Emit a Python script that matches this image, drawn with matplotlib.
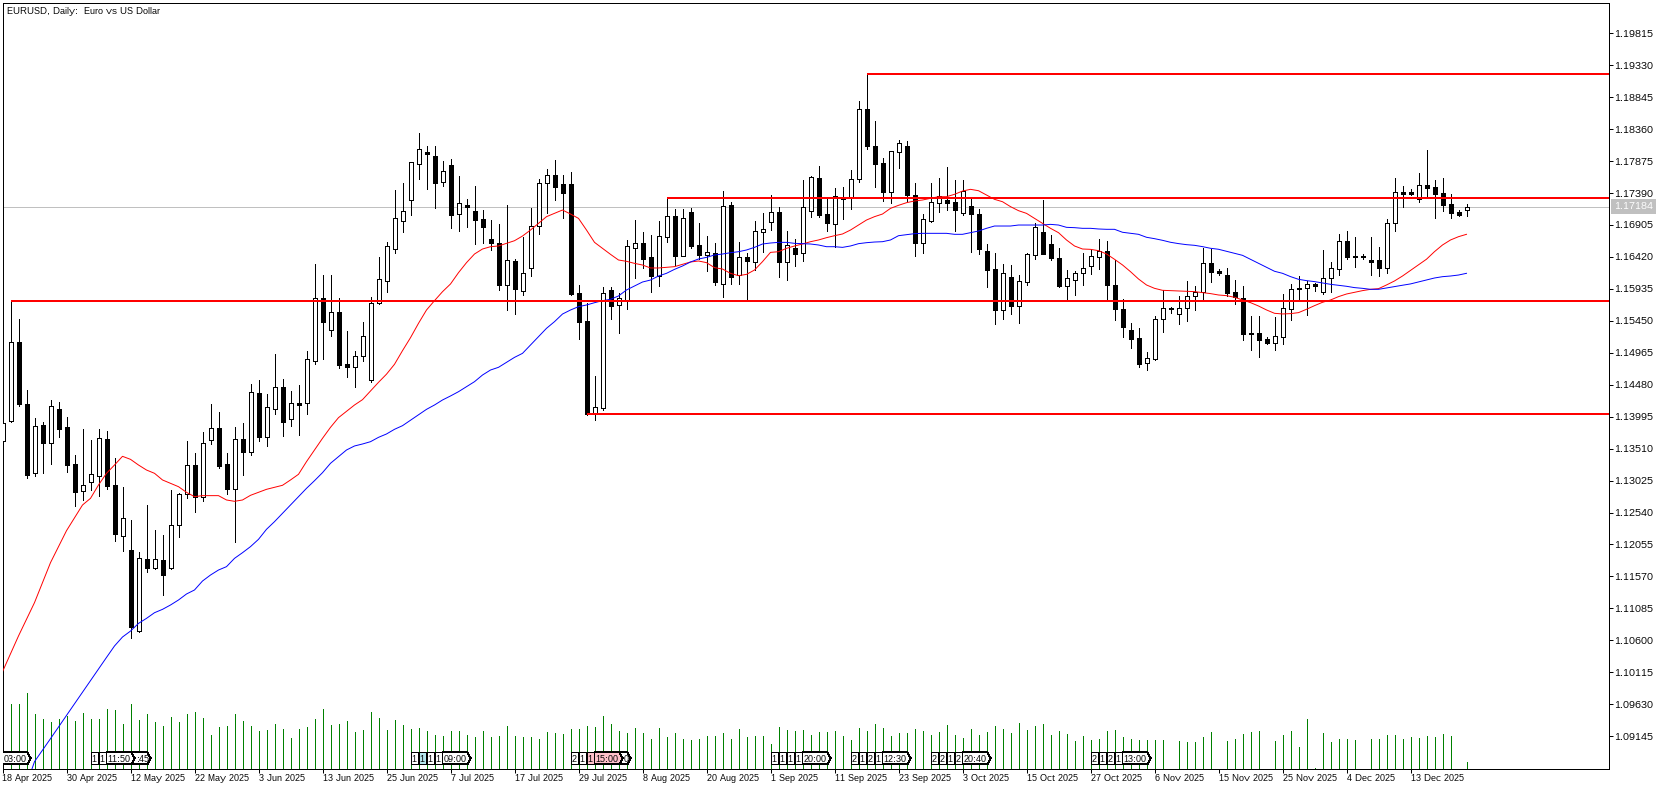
import numpy as np
import matplotlib
matplotlib.use("Agg")
import matplotlib.pyplot as plt
from matplotlib.patches import Polygon

plt.rcParams["text.hinting"] = "native"
plt.rcParams["text.hinting_factor"] = 1

opens = [1.13631,1.13934,1.15123,1.14187,1.13135,1.13868,1.13590,1.14111,1.13838,1.13276,
1.12862,1.12998,1.13099,1.13656,1.12958,1.12189,1.11971,1.10741,1.11834,1.11702,
1.11819,1.11702,1.12345,1.12816,1.13256,1.12770,1.13636,1.13818,1.13271,1.12892,
1.13651,1.13464,1.14349,1.13681,1.14106,1.14440,1.13955,1.14197,1.14208,1.14835,
1.15791,1.15306,1.15579,1.14789,1.14744,1.14911,1.14547,1.15715,1.16059,1.16545,
1.16960,1.17279,1.17825,1.18007,1.17947,1.17552,1.17810,1.17066,1.17208,1.17112,
1.16990,1.16687,1.16626,1.15988,1.16353,1.15897,1.16246,1.16884,1.17537,1.17658,
1.17527,1.17527,1.15872,1.15447,1.14035,1.14121,1.15913,1.15685,1.15756,1.16560,
1.16626,1.16419,1.16135,1.16717,1.17036,1.16439,1.17097,1.16596,1.16454,1.16474,
1.16014,1.17203,1.16140,1.16419,1.16338,1.16793,1.16945,1.17097,1.16348,1.16555,
1.16474,1.17112,1.17613,1.17071,1.16925,1.17299,1.17314,1.17598,1.18660,1.18104,
1.17845,1.17410,1.18007,1.18104,1.17360,1.16636,1.16970,1.17243,1.17284,1.17253,
1.17092,1.17193,1.17071,1.16510,1.16236,1.15619,1.16115,1.15680,1.16044,1.16454,
1.16798,1.16616,1.16403,1.15983,1.16074,1.16171,1.16277,1.16424,1.16505,1.15994,
1.15630,1.15311,1.15190,1.14810,1.14876,1.15473,1.15630,1.15549,1.15640,1.15832,
1.15888,1.16328,1.16207,1.16146,1.15888,1.15797,1.15265,1.15265,1.15174,1.15119,
1.15210,1.15635,1.15933,1.15943,1.16009,1.15893,1.16095,1.16232,1.16662,1.16419,
1.16419,1.16374,1.16374,1.16257,1.16930,1.17405,1.17405,1.17294,1.17507,1.17481,
1.17390,1.17223,1.17102,1.17137]

closes = [1.13894,1.15123,1.14187,1.13109,1.13848,1.13600,1.14152,1.13803,1.13266,1.12856,
1.12953,1.13120,1.13666,1.12948,1.12219,1.12452,1.10807,1.11844,1.11702,1.11829,
1.11596,1.12345,1.12816,1.13256,1.12770,1.13590,1.13818,1.13246,1.12902,1.13651,
1.13464,1.14364,1.13691,1.14137,1.14440,1.13919,1.14197,1.14177,1.14865,1.15791,
1.15437,1.15579,1.14784,1.14754,1.14911,1.15214,1.15715,1.16080,1.16580,1.17005,
1.17112,1.17856,1.18053,1.17977,1.17547,1.17719,1.17061,1.17233,1.17183,1.16985,
1.16879,1.16636,1.15999,1.16368,1.15938,1.16181,1.16884,1.17537,1.17658,1.17476,
1.17395,1.15862,1.15437,1.14035,1.14136,1.15867,1.15680,1.15791,1.16580,1.16626,
1.16393,1.16135,1.16732,1.17036,1.16439,1.17005,1.16591,1.16454,1.16489,1.16044,
1.17188,1.16120,1.16413,1.16363,1.16808,1.16839,1.17097,1.16348,1.16596,1.16464,
1.17172,1.17628,1.17056,1.16935,1.17339,1.17329,1.17598,1.18660,1.18109,1.17835,
1.17410,1.18023,1.18144,1.17360,1.16631,1.16990,1.17248,1.17345,1.17238,1.17132,
1.17415,1.17071,1.16540,1.16221,1.15614,1.16176,1.15675,1.16054,1.16464,1.16874,
1.16464,1.16403,1.15978,1.16095,1.16176,1.16252,1.16429,1.16510,1.15999,1.15635,
1.15362,1.15174,1.14794,1.14881,1.15473,1.15640,1.15645,1.15640,1.15822,1.15888,
1.16323,1.16196,1.16176,1.15873,1.15807,1.15250,1.15250,1.15159,1.15114,1.15215,
1.15640,1.15928,1.15949,1.16004,1.15974,1.16095,1.16247,1.16657,1.16424,1.16434,
1.16434,1.16343,1.16257,1.16930,1.17401,1.17375,1.17375,1.17507,1.17466,1.17375,
1.17208,1.17087,1.17056,1.17184]

highs = [1.13894,1.15751,1.15478,1.14400,1.13975,1.13909,1.14248,1.14218,1.13990,1.13413,
1.13808,1.13641,1.13808,1.13777,1.13368,1.12927,1.12426,1.11945,1.12654,1.12274,
1.12198,1.12881,1.12841,1.13626,1.13443,1.13762,1.14187,1.14066,1.13443,1.13838,
1.13899,1.14486,1.14547,1.14339,1.14946,1.14562,1.14385,1.14476,1.14992,1.16312,
1.16145,1.16145,1.15791,1.15295,1.14992,1.15432,1.15806,1.16419,1.16641,1.17436,
1.17537,1.17856,1.18301,1.18104,1.18104,1.17876,1.17901,1.17648,1.17299,1.17496,
1.17132,1.16980,1.16919,1.17208,1.16388,1.16722,1.17162,1.17598,1.17749,1.17891,
1.17658,1.17709,1.15993,1.15720,1.14612,1.15958,1.15963,1.15872,1.16677,1.16980,
1.16798,1.16752,1.16965,1.17314,1.17147,1.17147,1.17157,1.16935,1.16737,1.16631,
1.17420,1.17253,1.16646,1.16479,1.16965,1.17086,1.17360,1.17178,1.16813,1.16692,
1.17587,1.17648,1.17800,1.17299,1.17466,1.17481,1.17739,1.18787,1.19196,1.18483,
1.17921,1.18028,1.18195,1.18179,1.17542,1.17071,1.17542,1.17618,1.17785,1.17587,
1.17587,1.17314,1.17147,1.16616,1.16479,1.16312,1.16297,1.16145,1.16479,1.16935,
1.17284,1.16752,1.16555,1.16221,1.16206,1.16479,1.16525,1.16692,1.16662,1.16374,
1.15782,1.15417,1.15341,1.14977,1.15524,1.15918,1.15660,1.15827,1.16055,1.15979,
1.16556,1.16541,1.16237,1.16252,1.16070,1.15979,1.15524,1.15524,1.15205,1.15508,
1.15857,1.16009,1.16131,1.16055,1.16024,1.16525,1.16343,1.16768,1.16814,1.16723,
1.16465,1.16723,1.16571,1.16996,1.17618,1.17497,1.17451,1.17694,1.18043,1.17588,
1.17618,1.17375,1.17132,1.17223]

lows = [1.13631,1.13919,1.14162,1.13069,1.13094,1.13145,1.13276,1.13691,1.13160,1.12639,
1.12730,1.12882,1.12791,1.12897,1.12108,1.11956,1.10640,1.10731,1.11642,1.11677,
1.11287,1.11677,1.12173,1.12765,1.12553,1.12720,1.13585,1.13221,1.12826,1.12097,
1.13109,1.13418,1.13626,1.13555,1.14035,1.13702,1.13853,1.13717,1.14035,1.14794,
1.14870,1.15220,1.14739,1.14597,1.14445,1.14840,1.14526,1.15700,1.15887,1.16479,
1.16798,1.17056,1.17603,1.17451,1.17162,1.17496,1.16859,1.16813,1.16874,1.16616,
1.16631,1.16525,1.15918,1.15614,1.15553,1.15842,1.16130,1.16768,1.17086,1.17284,
1.17011,1.15847,1.15174,1.14020,1.13944,1.14101,1.15477,1.15270,1.15629,1.16100,
1.16252,1.15887,1.15978,1.16641,1.16292,1.16439,1.16550,1.16383,1.16206,1.15993,
1.15816,1.16014,1.16014,1.15766,1.16221,1.16494,1.16828,1.16115,1.16069,1.16282,
1.16358,1.17026,1.17026,1.16813,1.16575,1.16995,1.17147,1.17557,1.18058,1.17481,
1.17269,1.17238,1.17770,1.17269,1.16434,1.16479,1.16955,1.17102,1.17132,1.16813,
1.17056,1.16494,1.16464,1.15963,1.15401,1.15477,1.15553,1.15417,1.15993,1.16388,
1.16464,1.16373,1.15963,1.15751,1.15842,1.15993,1.16160,1.16236,1.15751,1.15463,
1.15210,1.15038,1.14749,1.14703,1.14856,1.15281,1.15569,1.15402,1.15448,1.15615,
1.15782,1.16040,1.16146,1.15827,1.15706,1.15159,1.15007,1.14901,1.15098,1.15007,
1.15098,1.15463,1.15751,1.15539,1.15903,1.15857,1.15888,1.16146,1.16389,1.16267,
1.16389,1.16146,1.16131,1.16176,1.16814,1.17178,1.17360,1.17254,1.17345,1.17011,
1.17117,1.17011,1.17041,1.17041]

ma_fast = [1.10124,1.10395,1.10666,1.10919,1.11172,1.11475,1.11779,1.12020,1.12264,1.12460,
1.12654,1.12755,1.12958,1.13135,1.13261,1.13393,1.13347,1.13261,1.13185,1.13135,
1.13034,1.12983,1.12932,1.12846,1.12781,1.12796,1.12796,1.12796,1.12730,1.12710,
1.12730,1.12801,1.12846,1.12892,1.12922,1.12953,1.13034,1.13120,1.13312,1.13489,
1.13666,1.13833,1.13980,1.14076,1.14172,1.14253,1.14385,1.14516,1.14640,1.14790,
1.14997,1.15194,1.15412,1.15614,1.15756,1.15892,1.16009,1.16181,1.16333,1.16464,
1.16540,1.16575,1.16586,1.16626,1.16666,1.16737,1.16828,1.16930,1.17031,1.17081,
1.17132,1.17071,1.17005,1.16828,1.16641,1.16550,1.16459,1.16373,1.16353,1.16322,
1.16297,1.16252,1.16252,1.16262,1.16272,1.16307,1.16343,1.16358,1.16333,1.16257,
1.16236,1.16171,1.16135,1.16155,1.16221,1.16348,1.16489,1.16499,1.16550,1.16586,
1.16616,1.16651,1.16677,1.16712,1.16742,1.16768,1.16828,1.16904,1.16980,1.17031,
1.17071,1.17157,1.17203,1.17243,1.17269,1.17284,1.17309,1.17334,1.17334,1.17370,
1.17420,1.17446,1.17425,1.17360,1.17294,1.17258,1.17183,1.17122,1.17081,1.17005,
1.16930,1.16854,1.16788,1.16677,1.16586,1.16540,1.16535,1.16515,1.16465,1.16384,
1.16298,1.16196,1.16085,1.15994,1.15943,1.15913,1.15908,1.15903,1.15898,1.15893,
1.15878,1.15863,1.15842,1.15832,1.15807,1.15766,1.15726,1.15675,1.15615,1.15564,
1.15554,1.15559,1.15574,1.15625,1.15680,1.15731,1.15766,1.15817,1.15857,1.15883,
1.15908,1.15928,1.15938,1.15994,1.16055,1.16130,1.16215,1.16300,1.16385,1.16500,
1.16601,1.16677,1.16727,1.16763]

ma_slow_first_bar = 3
ma_slow = [1.08409,1.08758,1.08932,1.09107,1.09284,1.09461,1.09636,1.09811,1.09988,1.10165,
1.10340,1.10514,1.10650,1.10740,1.10857,1.10933,1.11019,1.11070,1.11136,1.11212,
1.11303,1.11364,1.11500,1.11591,1.11667,1.11718,1.11844,1.11930,1.12022,1.12133,
1.12285,1.12401,1.12528,1.12654,1.12781,1.12907,1.13023,1.13145,1.13287,1.13388,
1.13489,1.13550,1.13580,1.13615,1.13681,1.13732,1.13803,1.13858,1.13940,1.14020,
1.14106,1.14172,1.14248,1.14309,1.14374,1.14450,1.14526,1.14627,1.14703,1.14744,
1.14820,1.14895,1.14956,1.15083,1.15209,1.15336,1.15437,1.15553,1.15614,1.15665,
1.15690,1.15725,1.15756,1.15776,1.15827,1.15918,1.15978,1.16039,1.16069,1.16130,
1.16171,1.16231,1.16282,1.16343,1.16388,1.16413,1.16449,1.16464,1.16484,1.16499,
1.16525,1.16565,1.16616,1.16631,1.16641,1.16641,1.16626,1.16621,1.16616,1.16601,
1.16575,1.16575,1.16565,1.16586,1.16621,1.16636,1.16646,1.16651,1.16677,1.16742,
1.16758,1.16773,1.16778,1.16778,1.16778,1.16778,1.16763,1.16763,1.16788,1.16813,
1.16854,1.16889,1.16889,1.16889,1.16904,1.16904,1.16904,1.16904,1.16914,1.16904,
1.16869,1.16864,1.16854,1.16854,1.16844,1.16839,1.16839,1.16794,1.16778,1.16763,
1.16718,1.16697,1.16672,1.16642,1.16622,1.16606,1.16596,1.16576,1.16551,1.16536,
1.16505,1.16475,1.16444,1.16384,1.16323,1.16262,1.16202,1.16171,1.16121,1.16080,
1.16060,1.16045,1.16024,1.16004,1.15989,1.15974,1.15954,1.15943,1.15928,1.15928,
1.15949,1.15969,1.15990,1.16010,1.16040,1.16070,1.16100,1.16120,1.16130,1.16145,
1.16171]

tick_volume = [50000,65000,65000,76000,55000,50000,47000,50000,53000,48000,
56000,50000,50000,60000,59000,45000,65000,49000,55000,47000,
43000,52000,47000,55000,57000,51000,34000,42000,43000,55000,
48000,43000,38000,39000,45000,40000,31000,40000,42000,50000,
60000,44000,45000,48000,37000,39000,57000,51000,39000,49000,
44000,40000,41000,38000,34000,33000,38000,38000,34000,32000,
38000,32000,33000,43000,33000,32000,32000,30000,37000,36000,
35000,40000,40000,43000,42000,53000,45000,38000,36000,41000,
36000,30000,41000,32000,36000,30000,29000,30000,33000,33000,
36000,30000,40000,32000,33000,33000,25000,42000,39000,38000,
39000,34000,37000,37000,38000,33000,29000,41000,38000,45000,
41000,33000,36000,36000,40000,38000,34000,37000,44000,34000,
31000,40000,34000,37000,43000,40000,36000,46000,39000,43000,
45000,34000,38000,35000,28000,33000,29000,30000,38000,39000,
32000,30000,29000,29000,29000,29000,0,28000,27000,27000,
32000,37000,0,28000,30000,35000,37000,38000,0,28000,
34000,38000,22000,50000,1000,36000,27000,30000,30000,29000,
0,30000,30000,34000,34000,30000,32000,31000,33000,32000,
35000,33000,0,7000]

level_start_bars = [1, 83, 108, 73]
level_prices = [1.15751, 1.17314, 1.19196, 1.14035]
last_price = 1.17184

date_labels = ["18 Apr 2025","30 Apr 2025","12 May 2025","22 May 2025","3 Jun 2025","13 Jun 2025",
"25 Jun 2025","7 Jul 2025","17 Jul 2025","29 Jul 2025","8 Aug 2025","20 Aug 2025","1 Sep 2025",
"11 Sep 2025","23 Sep 2025","3 Oct 2025","15 Oct 2025","27 Oct 2025","6 Nov 2025","15 Nov 2025",
"25 Nov 2025","4 Dec 2025","13 Dec 2025"]
date_every = 8

price_first_tick = 1.19815
price_step = 0.00485
price_tick_count = 23

small_tags = [(11,"1",None),(12,"1",None),(51,"1",None),(52,"1","#b4e6ec"),(53,"1",None),(54,"1",None),
(71,"2",None),(72,"1",None),(73,"1","#ffc0cb"),(96,"1",None),(97,"1",None),(98,"1",None),(99,"1",None),
(106,"2",None),(107,"1",None),(108,"2",None),(109,"1",None),(116,"2",None),(117,"2",None),(118,"1",None),(119,"2",None),
(136,"2",None),(137,"1",None),(138,"2",None),(139,"1",None)]
time_tags = [(0,"03:00",None,1.6),(15,":45",None,2.5),(13,"11:50",None,1.6),(55,"09:00",None,1.6),(75,"0",None,3.0),
(74,"15:00","#ffc0cb",1.6),(100,"20:00",None,1.6),(110,"12:30",None,1.6),(120,"20:40",None,1.6),(140,"13:00",None,1.6)]

W, H = 1661, 789
PX = 0.72
FONT = "Liberation Sans"
FS = 7.0
FS_DATE = 6.4

fig = plt.figure(figsize=(W/100, H/100), dpi=100, facecolor="white")
rect = [2.5/W, 1-768.5/H, 1606/W, 766/H]
ax_vol = fig.add_axes(rect, zorder=0)
ax = fig.add_axes(rect, zorder=1)
ax.patch.set_alpha(0)

xlim = (0, 1606/8)
bars = np.arange(len(opens))
o, c, h, l = map(np.array, (opens, closes, highs, lows))

ax_vol.set_xlim(*xlim)
ax_vol.set_ylim(0, 766000)
ax_vol.axis("off")
ax_vol.vlines(bars, 0, tick_volume, color="#008000", lw=PX, antialiased=False)

ax.set_xlim(*xlim)
ax.set_ylim(1.08654, 1.20282)

ax.vlines(bars, l, h, color="black", lw=PX, zorder=2, antialiased=False)
up = c >= o
ax.bar(bars, np.abs(c-o), bottom=np.minimum(o, c), width=0.5,
       color=np.where(up, "white", "black").tolist(), edgecolor="black", linewidth=PX,
       zorder=3, antialiased=False)

ax.axhline(last_price, color="#c0c0c0", lw=PX, zorder=1, antialiased=False)
ax.plot(bars, ma_fast, color="#ff0000", lw=0.7, zorder=4)
ax.plot(np.arange(len(ma_slow))+ma_slow_first_bar, ma_slow, color="#0000ff", lw=0.7, zorder=4)
ax.hlines(level_prices, level_start_bars, xlim[1], color="#ff0000", lw=2*PX, zorder=5)

tr = ax.get_xaxis_transform()
y0, y1 = 0.0055, 0.02115
for bar, txt, fill in small_tags:
    ax.add_patch(Polygon([(bar,y0),(bar,y1),(bar+0.875,y1),(bar+0.875,y0)], closed=True, transform=tr,
                         facecolor=fill or "white", edgecolor="black", lw=PX, zorder=6, antialiased=False))
    ax.text(bar+0.45, (y0+y1)/2, txt, transform=tr, ha="center", va="center_baseline",
            fontsize=FS_DATE, family=FONT, zorder=7)
for k, (bar, txt, fill, tx) in enumerate(time_tags):
    z = 6 + 0.01*k
    ax.add_patch(Polygon([(bar,y0),(bar,y1),(bar+3.1,y1),(bar+3.52,(y0+y1)/2),(bar+3.1,y0)], closed=True, transform=tr,
                         facecolor=fill or "white", edgecolor="black", lw=PX, zorder=z, antialiased=False))
    ax.text(bar+tx, (y0+y1)/2, txt, transform=tr, ha="center", va="center_baseline",
            fontsize=FS_DATE, family=FONT, zorder=z+0.001)

ax.set_xticks(np.arange(len(date_labels))*date_every)
ax.set_xticklabels(date_labels, ha="left", fontsize=FS_DATE, family=FONT)
yt = price_first_tick - price_step*np.arange(price_tick_count)
ax.set_yticks(yt)
ax.set_yticklabels([f"{v:.5f}" for v in yt], fontsize=FS, family=FONT)
ax.yaxis.tick_right()
ax.tick_params(axis="x", length=2.9, width=PX, pad=1.0, color="black")
ax.tick_params(axis="y", length=2.9, width=PX, pad=1.3, color="black")
for s in ax.spines.values():
    s.set_linewidth(PX)
    s.set_antialiased(False)

ax.text(1+5.8/1606, last_price, f"{last_price:.5f}", transform=ax.get_yaxis_transform(),
        ha="left", va="center", color="white", fontsize=FS, family=FONT, zorder=10, clip_on=False,
        bbox=dict(boxstyle="square,pad=0.3", facecolor="#c0c0c0", edgecolor="none"))
fig.text(7/W, 1-11/H, "EURUSD, Daily:  Euro vs US Dollar", ha="left", va="center", fontsize=FS_DATE, family=FONT, zorder=10)

fig.savefig("out.png", dpi=100)
